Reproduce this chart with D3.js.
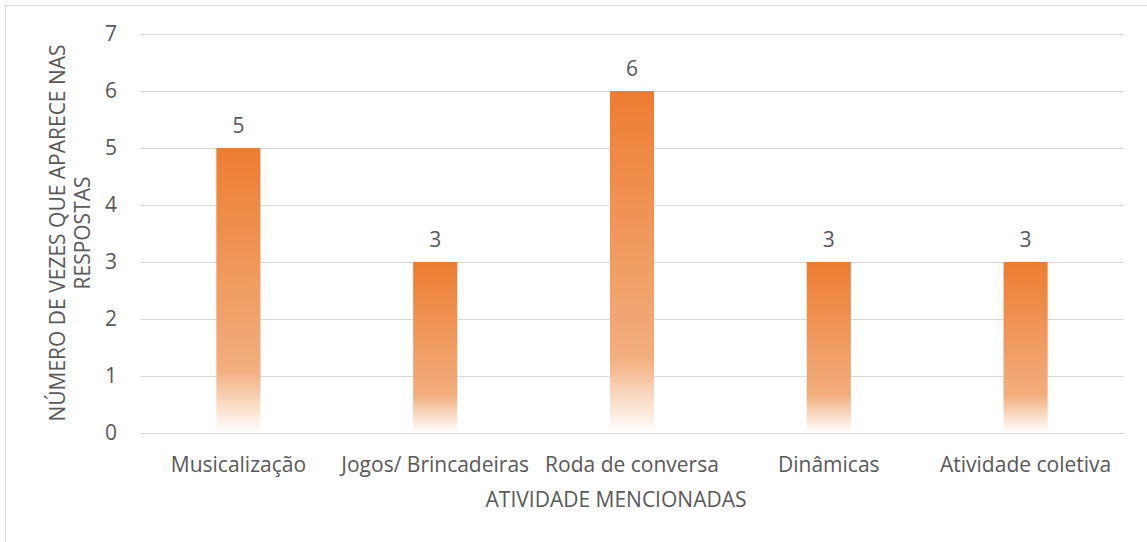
<!DOCTYPE html>
<html>
<head>
<meta charset="utf-8">
<script src="https://cdn.jsdelivr.net/npm/d3@7"></script>
<style>
  body { margin: 0; background: #fff; }
  svg text { font-family: "Open Sans", "Liberation Sans", sans-serif; fill: #595959; }
</style>
</head>
<body>
<svg id="chart" width="1147" height="542"></svg>
<script>
// Chart data
let categories = ['Musicalização', 'Jogos/ Brincadeiras', 'Roda de conversa', 'Dinâmicas', 'Atividade coletiva'];
let values = [5, 3, 6, 3, 3];
let yTicks = [0, 1, 2, 3, 4, 5, 6, 7];

let svg = d3.select('#chart');
let width = 1147, height = 542;
let margin = {left: 140, right: 23, top: 34, bottom: 109};
let fontSize = 21;

// Outer border
svg.append('rect')
    .attr('x', 5.5).attr('y', 5.5)
    .attr('width', width).attr('height', height)
    .attr('fill', '#fff').attr('stroke', '#d9d9d9');

// Bar gradient (orange fading to white at the base)
let grad = svg.append('defs').append('linearGradient')
    .attr('id', 'barGrad')
    .attr('x1', 0).attr('y1', 0).attr('x2', 0).attr('y2', 1);
[[0, '#ED7D31'], [0.78, '#F2AE7E'], [0.88, '#F8D4BA'], [1, '#FFFFFF']].forEach(function(s) {
  grad.append('stop').attr('offset', s[0]).attr('stop-color', s[1]);
});

let scaleX = d3.scaleBand()
    .domain(categories)
    .range([margin.left, width - margin.right])
    .paddingInner(0.776).paddingOuter(0.388);

let scaleY = d3.scaleLinear()
    .domain([0, 7])
    .range([height - margin.bottom, margin.top]);

// Gridlines and y axis
let yAxis = d3.axisLeft(scaleY)
    .tickValues(yTicks)
    .tickFormat(d3.format('d'))
    .tickSize(-(width - margin.right - margin.left))
    .tickPadding(23);
let gy = svg.append('g')
    .attr('transform', 'translate(' + margin.left + ',0)')
    .call(yAxis);
gy.select('.domain').remove();
gy.selectAll('.tick line').attr('stroke', '#d9d9d9').attr('stroke-width', 1);
gy.selectAll('.tick text').attr('font-size', fontSize).style('fill', '#595959');

// Bars
svg.selectAll('rect.bar').data(values)
    .join('rect')
    .attr('class', 'bar')
    .attr('x', (d, i) => scaleX(categories[i]))
    .attr('y', (d) => scaleY(d))
    .attr('width', scaleX.bandwidth())
    .attr('height', (d) => scaleY(0) - scaleY(d))
    .attr('fill', 'url(#barGrad)');

// Data labels
svg.selectAll('text.label').data(values)
    .join('text')
    .attr('class', 'label')
    .attr('x', (d, i) => scaleX(categories[i]) + scaleX.bandwidth() / 2)
    .attr('y', (d) => scaleY(d) - 15)
    .attr('text-anchor', 'middle')
    .attr('font-size', fontSize)
    .text((d) => d);

// X axis labels
let xAxis = d3.axisBottom(scaleX).tickSize(0).tickPadding(24);
let gx = svg.append('g')
    .attr('transform', 'translate(0,' + scaleY(0) + ')')
    .call(xAxis);
gx.select('.domain').attr('stroke', '#d9d9d9');
gx.selectAll('.tick text').attr('font-size', fontSize).style('fill', '#595959');

// Axis titles
svg.append('text')
    .attr('x', 616).attr('y', 507)
    .attr('text-anchor', 'middle')
    .attr('font-size', fontSize)
    .text('ATIVIDADE MENCIONADAS');

let yTitle = svg.append('text')
    .attr('transform', 'translate(65,233) rotate(-90)')
    .attr('text-anchor', 'middle')
    .attr('font-size', fontSize);
yTitle.append('tspan').attr('x', 0).attr('dy', 0).text('NÚMERO DE VEZES QUE APARECE NAS');
yTitle.append('tspan').attr('x', 0).attr('dy', 25).text('RESPOSTAS');
</script>
</body>
</html>
